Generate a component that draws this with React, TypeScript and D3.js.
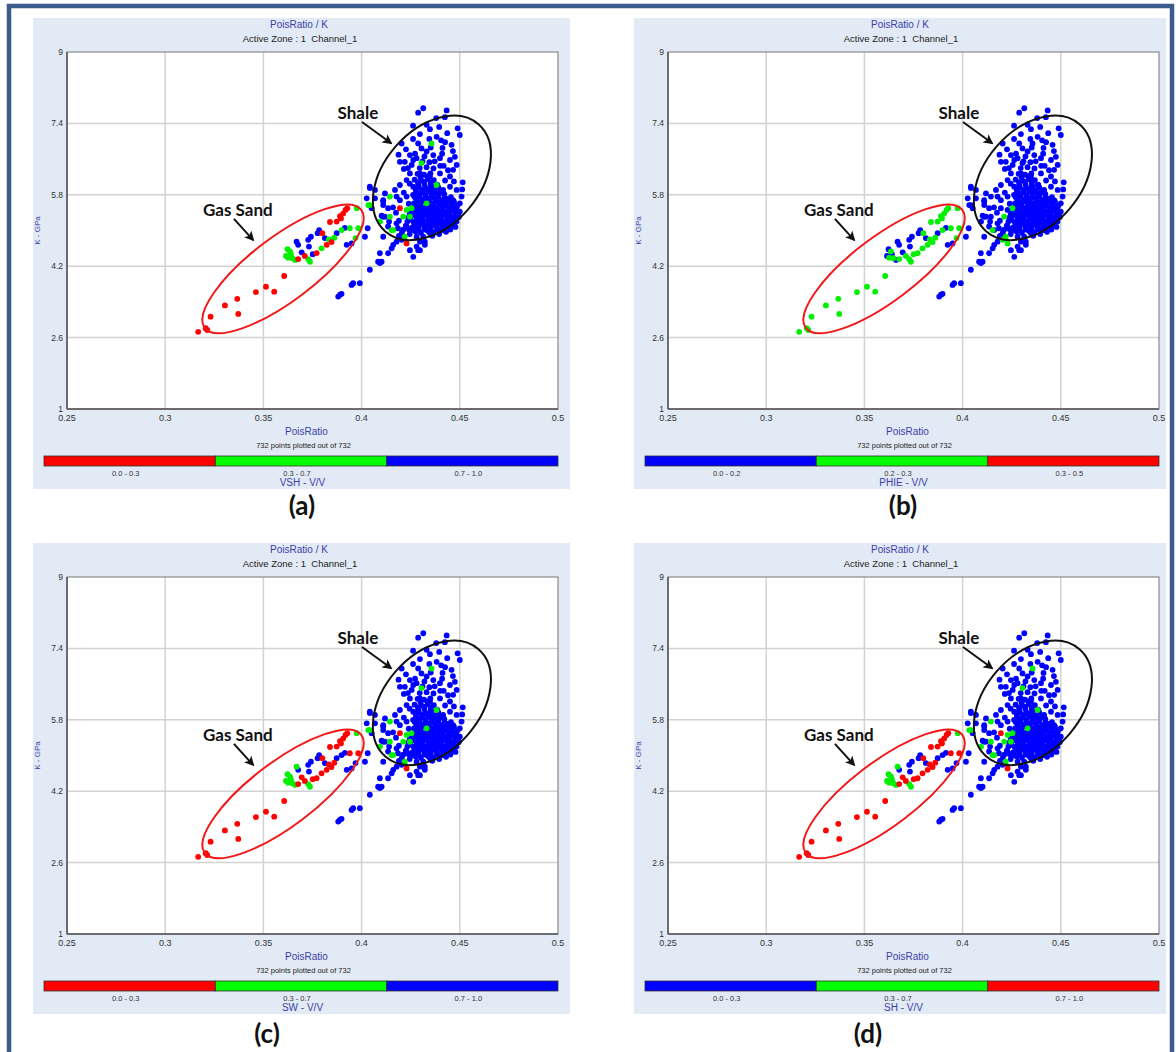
import React from 'react';
import * as d3 from 'd3';

// [PoisRatio, K (GPa), colour letter for panels a,b,c,d]
type Pt = [number, number, string];

const xTicks = [0.25, 0.3, 0.35, 0.4, 0.45, 0.5];
const yTicks = [1, 2.6, 4.2, 5.8, 7.4, 9];

const panelTags = ['(a)', '(b)', '(c)', '(d)'];
const colourVars = ['VSH - V/V', 'PHIE - V/V', 'SW - V/V', 'SH - V/V'];
const legendRanges = [
    ['0.0 - 0.3', '0.3 - 0.7', '0.7 - 1.0'],
    ['0.0 - 0.2', '0.2 - 0.3', '0.3 - 0.5'],
    ['0.0 - 0.3', '0.3 - 0.7', '0.7 - 1.0'],
    ['0.0 - 0.3', '0.3 - 0.7', '0.7 - 1.0'],
];
const legendColours = ['rgb', 'bgr', 'rgb', 'bgr'];

// low-K tail of the gas sand
const sandTail: Pt[] = [
    [0.3168, 2.73, 'rgrr'], [0.3206, 2.81, 'rgrr'], [0.3214, 2.77, 'rgrr'], [0.3231, 3.07, 'rgrr'],
    [0.3304, 3.32, 'rgrr'], [0.3367, 3.47, 'rgrr'], [0.3372, 3.13, 'rgrr'], [0.3462, 3.62, 'rgrr'],
    [0.3513, 3.74, 'rgrr'], [0.3555, 3.63, 'rgrr'], [0.3606, 3.98, 'rgrr'],
];

// upper gas sand band
const sandBand: Pt[] = [
    [0.3623, 4.58, 'gbgg'], [0.3635, 4.53, 'gggg'], [0.3615, 4.43, 'gbgg'], [0.3626, 4.39, 'gggg'],
    [0.3647, 4.38, 'gggg'], [0.3661, 4.34, 'gbgg'], [0.3640, 4.47, 'gbgg'], [0.3669, 4.75, 'bbgg'],
    [0.3677, 4.68, 'bbbb'], [0.3695, 4.51, 'bbrr'], [0.3677, 4.36, 'rgrr'], [0.3711, 4.43, 'rgrr'],
    [0.3728, 4.79, 'bbbb'], [0.3742, 4.86, 'bbbb'], [0.3732, 4.64, 'bbbb'], [0.3751, 4.47, 'bgrr'],
    [0.3737, 4.30, 'gggg'], [0.3728, 4.36, 'gggg'], [0.3771, 4.49, 'rgrr'], [0.3784, 5.01, 'bbbb'],
    [0.3776, 4.94, 'bbbb'], [0.3796, 4.60, 'ggrr'], [0.3800, 4.94, 'rgrr'], [0.3813, 4.83, 'bbbb'],
    [0.3822, 4.68, 'rgrr'], [0.3833, 4.80, 'ggrr'], [0.3847, 4.74, 'rgrr'], [0.3861, 4.84, 'ggrr'],
    [0.3873, 4.94, 'bbbb'], [0.3839, 5.19, 'rgrr'], [0.3873, 5.20, 'rgrr'], [0.3898, 5.01, 'ggbb'],
    [0.3895, 5.27, 'rgrr'], [0.3906, 5.38, 'rgrr'], [0.3918, 5.46, 'rgrr'], [0.3927, 5.50, 'rgrr'],
    [0.3915, 5.06, 'bbbb'], [0.3940, 5.05, 'ggrr'], [0.3983, 5.05, 'ggrr'], [0.3969, 4.83, 'ggbb'],
    [0.3924, 4.68, 'bbbb'], [0.3949, 4.71, 'bbbb'], [0.3975, 5.50, 'gggg'], [0.4017, 4.86, 'bbbb'],
    [0.4031, 5.05, 'bbbb'], [0.4026, 5.72, 'bbbb'], [0.3890, 5.32, 'rgrr'],
];

// shale body, edges and trailing points
const shaleBody: Pt[] = [
    [0.4288, 7.64, 'bbbb'], [0.4314, 7.74, 'bbbb'], [0.4433, 7.69, 'bbbb'], [0.4424, 7.54, 'bbbb'],
    [0.4489, 7.29, 'bbbb'], [0.4436, 7.18, 'bbbb'], [0.4500, 7.14, 'bbbb'], [0.4331, 7.37, 'bbbb'],
    [0.4297, 7.16, 'bbbb'], [0.4348, 7.27, 'bbbb'], [0.4382, 7.10, 'bbbb'], [0.4356, 6.95, 'gbgg'],
    [0.4204, 6.95, 'bbbb'], [0.4226, 6.82, 'bbbb'], [0.4246, 6.69, 'bbbb'], [0.4195, 6.54, 'bbbb'],
    [0.4220, 6.54, 'bbbb'], [0.4263, 6.58, 'bbbb'], [0.4305, 6.51, 'gbgg'], [0.4305, 6.84, 'bbbb'],
    [0.4288, 6.95, 'bbbb'], [0.4331, 6.77, 'bbbb'], [0.4365, 6.69, 'bbbb'], [0.4399, 6.62, 'bbbb'],
    [0.4450, 6.58, 'bbbb'], [0.4475, 6.65, 'bbbb'], [0.4484, 6.47, 'bbbb'], [0.4466, 6.36, 'bbbb'],
    [0.4450, 6.21, 'bbbb'], [0.4399, 6.28, 'bbbb'], [0.4382, 6.02, 'gbgg'], [0.4348, 6.21, 'bbbb'],
    [0.4297, 6.28, 'bbbb'], [0.4246, 6.28, 'bbbb'], [0.4229, 6.13, 'bbbb'], [0.4195, 6.02, 'bbbb'],
    [0.4170, 5.91, 'bbbb'], [0.4263, 5.98, 'bbbb'], [0.4314, 5.91, 'bbbb'], [0.4348, 5.91, 'bbbb'],
    [0.4382, 5.83, 'bbbb'], [0.4415, 5.91, 'bbbb'], [0.4450, 5.98, 'bbbb'], [0.4484, 5.91, 'bbbb'],
    [0.4509, 5.76, 'bbbb'], [0.4466, 5.68, 'bbbb'], [0.4433, 5.68, 'bbbb'], [0.4399, 5.61, 'bbbb'],
    [0.4331, 5.61, 'gbgg'], [0.4280, 5.68, 'bbbb'], [0.4229, 5.76, 'bbbb'], [0.4178, 5.76, 'bbbb'],
    [0.4144, 5.76, 'gbgg'], [0.4119, 5.83, 'bbbb'], [0.4068, 5.91, 'bbbb'], [0.4042, 5.98, 'bbbb'],
    [0.4110, 5.68, 'bbbb'], [0.4068, 5.72, 'bbbb'], [0.4042, 5.57, 'gbgg'], [0.4110, 5.57, 'bbbb'],
    [0.4135, 5.50, 'bbbb'], [0.4195, 5.50, 'rbrr'], [0.4229, 5.46, 'gbgg'], [0.4254, 5.50, 'gggg'],
    [0.4212, 5.31, 'gggg'], [0.4246, 5.31, 'gbgg'], [0.4102, 5.33, 'bbbb'], [0.4110, 5.31, 'bbbb'],
    [0.4153, 5.01, 'gggg'], [0.4178, 5.16, 'bbbb'], [0.4229, 5.09, 'bbbb'], [0.4263, 5.01, 'bbbb'],
    [0.4280, 4.86, 'bbbb'], [0.4220, 4.86, 'gggg'], [0.4229, 4.71, 'rgrr'], [0.4314, 4.86, 'bbbb'],
    [0.4348, 4.94, 'bbbb'], [0.4415, 5.01, 'bbbb'], [0.4382, 5.16, 'bbbb'], [0.4433, 5.16, 'bbbb'],
    [0.4348, 5.31, 'bbbb'], [0.4297, 5.31, 'bbbb'], [0.4280, 5.20, 'bbbb'], [0.4314, 5.46, 'bbbb'],
    [0.4365, 5.46, 'bbbb'], [0.4399, 5.39, 'bbbb'], [0.4450, 5.46, 'bbbb'], [0.4484, 5.53, 'bbbb'],
    [0.4500, 5.61, 'bbbb'], [0.4322, 4.68, 'bbbb'], [0.4297, 4.56, 'bbbb'], [0.4280, 4.64, 'bbbb'],
    [0.4263, 4.41, 'bbbb'], [0.4246, 4.56, 'bbbb'], [0.4110, 4.86, 'bbbb'], [0.4093, 4.49, 'bbbb'],
    [0.4102, 4.30, 'bbbb'], [0.4093, 4.27, 'bbbb'], [0.4042, 4.12, 'bbbb'], [0.3991, 3.82, 'bbbb'],
    [0.3957, 3.82, 'bbbb'], [0.3949, 3.78, 'bbbb'], [0.3881, 3.52, 'bbbb'], [0.3890, 3.56, 'bbbb'],
    [0.3898, 3.58, 'bbbb'], [0.4084, 4.30, 'bbbb'], [0.4161, 4.68, 'bbbb'], [0.4135, 4.49, 'bbbb'],
    [0.4153, 4.60, 'bbbb'], [0.4178, 4.75, 'bbbb'], [0.4204, 4.79, 'bgbb'], [0.4288, 4.56, 'bbbb'],
    [0.4297, 4.75, 'bbbb'], [0.4322, 4.75, 'bbbb'], [0.4042, 5.95, 'bbbb'], [0.4034, 5.57, 'gbgg'],
    [0.4051, 5.50, 'bbbb'], [0.4110, 5.65, 'bbbb'], [0.4119, 5.31, 'bbbb'], [0.4094, 5.20, 'gbgg'],
    [0.4144, 5.31, 'gbgg'], [0.4135, 5.09, 'bbbb'], [0.4161, 5.01, 'gbgg'],
    [0.4262, 7.05, 'bbbb'], [0.4395, 7.32, 'bbbb'], [0.4458, 6.92, 'bbbb'], [0.4412, 6.85, 'bbbb'],
    [0.4272, 6.72, 'bbbb'], [0.4418, 6.45, 'bbbb'], [0.4236, 6.40, 'bbbb'], [0.4515, 6.08, 'bbbb'],
    [0.4188, 6.70, 'bbbb'], [0.4215, 6.38, 'bbbb'], [0.4255, 6.47, 'bbbb'], [0.4280, 6.62, 'bbbb'],
    [0.4320, 6.66, 'bbbb'], [0.4352, 6.86, 'bbbb'], [0.4372, 6.55, 'bbbb'], [0.4410, 6.72, 'bbbb'],
    [0.4425, 6.98, 'bbbb'], [0.4465, 6.78, 'bbbb'], [0.4440, 6.35, 'bbbb'], [0.4425, 6.12, 'bbbb'],
    [0.4470, 6.10, 'bbbb'], [0.4400, 6.45, 'bbbb'], [0.4245, 6.05, 'bbbb'], [0.4215, 5.85, 'bbbb'],
    [0.4240, 5.60, 'bbbb'], [0.4195, 5.68, 'bbbb'], [0.4160, 5.52, 'bbbb'], [0.4175, 5.40, 'bbbb'],
    [0.4140, 5.20, 'bbbb'], [0.4190, 5.22, 'bbbb'], [0.4185, 5.05, 'bbbb'], [0.4205, 4.95, 'bbbb'],
    [0.4245, 4.92, 'bbbb'], [0.4190, 4.88, 'bbbb'], [0.4360, 4.88, 'bbbb'], [0.4395, 4.92, 'bbbb'],
    [0.4452, 5.02, 'bbbb'], [0.4478, 5.08, 'bbbb'], [0.4500, 5.42, 'bbbb'], [0.4512, 5.92, 'bbbb'],
    [0.4380, 7.52, 'bbbb'], [0.4405, 7.02, 'bbbb'], [0.4345, 7.05, 'bbbb'], [0.4262, 7.35, 'bbbb'],
];

// dense shale core, blue in every panel
const shaleCore: [number, number][] = [
    [0.4275, 4.98], [0.4302, 4.95], [0.4338, 4.99], [0.4366, 4.96], [0.4401, 5.00], [0.4430, 4.97],
    [0.4258, 5.07], [0.4289, 5.05], [0.4321, 5.08], [0.4352, 5.04], [0.4384, 5.07], [0.4417, 5.06], [0.4446, 5.09],
    [0.4270, 5.15], [0.4305, 5.13], [0.4333, 5.16], [0.4361, 5.14], [0.4393, 5.17], [0.4428, 5.13], [0.4459, 5.16],
    [0.4249, 5.24], [0.4281, 5.26], [0.4312, 5.23], [0.4344, 5.25], [0.4372, 5.22], [0.4405, 5.26], [0.4436, 5.24], [0.4468, 5.27],
    [0.4262, 5.34], [0.4296, 5.32], [0.4327, 5.35], [0.4356, 5.33], [0.4388, 5.31], [0.4419, 5.35], [0.4450, 5.33], [0.4478, 5.36],
    [0.4274, 5.43], [0.4307, 5.41], [0.4340, 5.44], [0.4369, 5.42], [0.4398, 5.45], [0.4431, 5.41], [0.4462, 5.44],
    [0.4285, 5.52], [0.4318, 5.50], [0.4350, 5.53], [0.4380, 5.51], [0.4412, 5.54], [0.4443, 5.50], [0.4472, 5.52],
    [0.4267, 5.61], [0.4298, 5.59], [0.4329, 5.62], [0.4361, 5.60], [0.4392, 5.63], [0.4425, 5.59], [0.4456, 5.61],
    [0.4279, 5.71], [0.4311, 5.69], [0.4343, 5.72], [0.4374, 5.70], [0.4406, 5.68], [0.4438, 5.71],
    [0.4262, 5.80], [0.4294, 5.82], [0.4325, 5.79], [0.4357, 5.81], [0.4390, 5.78], [0.4421, 5.82],
    [0.4276, 5.91], [0.4308, 5.89], [0.4340, 5.92], [0.4372, 5.90], [0.4403, 5.88],
    [0.4288, 6.02], [0.4320, 6.04], [0.4352, 6.01], [0.4385, 6.03],
    [0.4270, 6.14], [0.4304, 6.12], [0.4337, 6.15], [0.4368, 6.13],
    [0.4285, 6.27], [0.4318, 6.25], [0.4350, 6.28],
    [0.4296, 6.40], [0.4331, 6.42], [0.4366, 6.39],
    [0.4310, 6.55], [0.4345, 6.53],
    [0.4212, 5.02], [0.4240, 5.03], [0.4290, 5.01], [0.4320, 5.02], [0.4352, 5.00], [0.4385, 5.03], [0.4415, 5.01],
    [0.4225, 5.11], [0.4285, 5.10], [0.4318, 5.12], [0.4347, 5.10], [0.4377, 5.11], [0.4410, 5.12], [0.4442, 5.10], [0.4470, 5.12],
    [0.4233, 5.20], [0.4265, 5.19], [0.4296, 5.21], [0.4328, 5.19], [0.4358, 5.20], [0.4389, 5.21], [0.4420, 5.19], [0.4452, 5.21], [0.4483, 5.20],
    [0.4238, 5.29], [0.4280, 5.30], [0.4311, 5.28], [0.4341, 5.30], [0.4372, 5.29], [0.4404, 5.28], [0.4435, 5.30], [0.4465, 5.29], [0.4495, 5.30],
    [0.4245, 5.38], [0.4290, 5.37], [0.4322, 5.39], [0.4352, 5.38], [0.4383, 5.37], [0.4414, 5.39], [0.4446, 5.38], [0.4492, 5.39],
    [0.4258, 5.47], [0.4291, 5.48], [0.4324, 5.46], [0.4355, 5.47], [0.4384, 5.48], [0.4415, 5.46], [0.4447, 5.47], [0.4478, 5.48],
    [0.4270, 5.56], [0.4301, 5.55], [0.4334, 5.57], [0.4365, 5.56], [0.4396, 5.55], [0.4428, 5.57], [0.4458, 5.56], [0.4488, 5.57],
    [0.4283, 5.65], [0.4314, 5.66], [0.4345, 5.64], [0.4377, 5.65], [0.4409, 5.66], [0.4441, 5.64], [0.4470, 5.65],
    [0.4270, 5.75], [0.4295, 5.76], [0.4327, 5.74], [0.4359, 5.75], [0.4390, 5.76], [0.4422, 5.74], [0.4455, 5.75],
    [0.4278, 5.86], [0.4310, 5.85], [0.4341, 5.87], [0.4373, 5.86], [0.4406, 5.85],
    [0.4292, 5.97], [0.4324, 5.96], [0.4356, 5.98], [0.4390, 5.97],
    [0.4287, 6.08], [0.4320, 6.09], [0.4353, 6.07],
    [0.4300, 6.20], [0.4334, 6.21],
];

const dotColour: Record<string, string> = { r: '#ff0000', g: '#00f000', b: '#0000ff' };
const barColour: Record<string, string> = { r: '#ff0000', g: '#00ff00', b: '#0000ff' };

const panelOffsets = [[0, 0], [601, 0], [0, 525], [601, 525]];
const bgWidths = [537, 532, 537, 532];
const tagX = [302, 302, 267, 267];
const tagY = [515, 515, 518, 518];

const purple = '#3c3ca8';
const uiFont = '"Liberation Sans", Arial, sans-serif';
const noteFont = 'Lato, "Open Sans", sans-serif';

const Panel: React.FC<{ idx: number }> = ({ idx }) => {
    const [ox, oy] = panelOffsets[idx];
    const x = d3.scaleLinear().domain([0.25, 0.5]).range([67, 558]);
    const y = d3.scaleLinear().domain([1, 9]).range([409, 52]);
    const bar = d3.scaleBand<number>().domain([0, 1, 2]).range([44, 558]).padding(0);

    const rank: Record<string, number> = { b: 0, g: 1, r: 2 };
    const dots = [
        ...shaleCore.map(d => ({ pr: d[0], k: d[1], c: 'b' })),
        ...shaleBody.map(d => ({ pr: d[0], k: d[1], c: d[2][idx] })),
        ...sandBand.map(d => ({ pr: d[0], k: d[1], c: d[2][idx] })),
        ...sandTail.map(d => ({ pr: d[0], k: d[1], c: d[2][idx] })),
    ].sort((a, b) => rank[a.c] - rank[b.c]);

    const [x0, x1] = x.range();
    const [yb, yt] = y.range();
    const cx = (x0 + x1) / 2;

    const shaleC = [x(0.4358), y(6.18)];
    const sandC = [x(0.36), y(4.14)];

    return (
        <g transform={`translate(${ox},${oy})`}>
            <rect x={33} y={18} width={bgWidths[idx]} height={471} fill="#e2ebf5" />
            <text x={299} y={28} textAnchor="middle" fontFamily={uiFont} fontSize={10} fill={purple}>PoisRatio / K</text>
            <text x={300} y={41.5} textAnchor="middle" fontFamily={uiFont} fontSize={9.5} fill="#222">Active Zone : 1{'\u00a0\u00a0'}Channel_1</text>

            <rect x={x0} y={yt} width={x1 - x0} height={yb - yt} fill="#fff" />
            {xTicks.slice(1, -1).map(t => (
                <line key={'gx' + t} x1={x(t)} x2={x(t)} y1={yt} y2={yb} stroke="#d2d2d2" strokeWidth={1.5} />
            ))}
            {yTicks.slice(1, -1).map(t => (
                <line key={'gy' + t} x1={x0} x2={x1} y1={y(t)} y2={y(t)} stroke="#d2d2d2" strokeWidth={1.5} />
            ))}
            <rect x={x0} y={yt} width={x1 - x0} height={yb - yt} fill="none" stroke="#8a8a8a" strokeWidth={1.2} />
            <line x1={x0} x2={x0} y1={yt} y2={yb} stroke="#555" strokeWidth={1.5} />
            <line x1={x0} x2={x1} y1={yb} y2={yb} stroke="#555" strokeWidth={1.5} />

            {yTicks.map(t => (
                <text key={'yl' + t} x={63} y={y(t)} dy="0.35em" textAnchor="end" fontFamily={uiFont} fontSize={8.5} fill="#333">{t}</text>
            ))}
            {xTicks.map(t => (
                <text key={'xl' + t} x={x(t)} y={421} textAnchor="middle" fontFamily={uiFont} fontSize={9} fill="#333">{t}</text>
            ))}
            <text transform={`translate(40,${(yt + yb) / 2}) rotate(-90)`} textAnchor="middle" fontFamily={uiFont} fontSize={8} fill={purple}>K - GPa</text>
            <text x={cx - 6} y={435} textAnchor="middle" fontFamily={uiFont} fontSize={10} fill={purple}>PoisRatio</text>
            <text x={cx - 9} y={448} textAnchor="middle" fontFamily={uiFont} fontSize={7.5} fill="#222">732 points plotted out of 732</text>

            {dots.map((d, i) => (
                <circle key={i} cx={x(d.pr)} cy={y(d.k)} r={2.9} fill={dotColour[d.c]} />
            ))}

            {/* annotations */}
            <ellipse cx={shaleC[0]} cy={shaleC[1]} rx={71} ry={48} fill="none" stroke="#111" strokeWidth={2}
                transform={`rotate(-49,${shaleC[0]},${shaleC[1]})`} />
            <ellipse cx={sandC[0]} cy={sandC[1]} rx={98} ry={32} fill="none" stroke="#f01818" strokeWidth={2}
                transform={`rotate(-37,${sandC[0]},${sandC[1]})`} />
            <text x={x(0.3981)} y={y(7.5)} textAnchor="middle" fontFamily={noteFont} fontWeight="bold" fontSize={17} fill="#111">Shale</text>
            <line x1={x(0.4002)} y1={y(7.43)} x2={x(0.4149)} y2={y(6.96)} stroke="#111" strokeWidth={2} markerEnd="url(#arrowhead)" />
            <text x={x(0.337)} y={y(5.33)} textAnchor="middle" fontFamily={noteFont} fontWeight="bold" fontSize={17} fill="#111">Gas Sand</text>
            <line x1={x(0.335)} y1={y(5.26)} x2={x(0.3447)} y2={y(4.79)} stroke="#111" strokeWidth={2} markerEnd="url(#arrowhead)" />

            {/* colour legend */}
            {[0, 1, 2].map(i => (
                <g key={'lg' + i}>
                    <rect x={bar(i)} y={456} width={bar.bandwidth()} height={10} fill={barColour[legendColours[idx][i]]} stroke="#333" strokeWidth={0.8} />
                    <text x={(bar(i) as number) + bar.bandwidth() / 2 - 4} y={476} textAnchor="middle" fontFamily={uiFont} fontSize={7.5} fill="#333">{legendRanges[idx][i]}</text>
                </g>
            ))}
            <text x={cx - 10} y={486} textAnchor="middle" fontFamily={uiFont} fontSize={10} fill={purple}>{colourVars[idx]}</text>

            <text x={tagX[idx]} y={tagY[idx]} textAnchor="middle" fontFamily={noteFont} fontWeight="bold" fontSize={26} fill="#111">{panelTags[idx]}</text>
        </g>
    );
};

export default function App() {
    return (
        <svg width={1176} height={1052} style={{ position: 'absolute', left: 0, top: 0, background: '#fff' }}>
            <defs>
                <marker id="arrowhead" viewBox="0 0 10 10" refX={8} refY={5} markerWidth={5} markerHeight={5} orient="auto">
                    <path d="M0,0 L10,5 L0,10 L2.5,5 z" fill="#111" />
                </marker>
            </defs>
            <rect x={9} y={6} width={1163} height={1100} fill="none" stroke="#3c5a8c" strokeWidth={4.5} />
            {[0, 1, 2, 3].map(i => <Panel key={i} idx={i} />)}
        </svg>
    );
}
